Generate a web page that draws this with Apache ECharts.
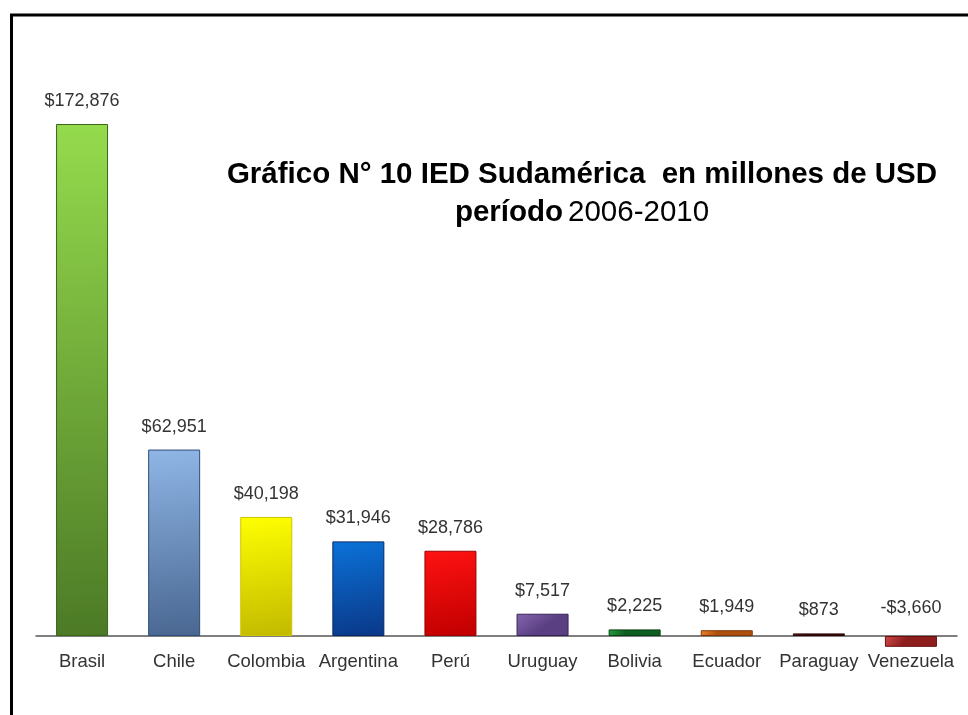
<!DOCTYPE html>
<html>
<head>
<meta charset="utf-8">
<script src="https://cdn.jsdelivr.net/npm/echarts@6/dist/echarts.min.js"></script>
<style>
html,body{margin:0;padding:0;background:#fff;}
#chart{width:968px;height:715px;}
</style>
</head>
<body>
<div id="chart"></div>
<script>
var categories = ['Brasil', 'Chile', 'Colombia', 'Argentina', 'Perú', 'Uruguay', 'Bolivia', 'Ecuador', 'Paraguay', 'Venezuela'];
var values = [172876, 62951, 40198, 31946, 28786, 7517, 2225, 1949, 873, -3660];
var titleLine1 = 'Gráfico N° 10 IED Sudamérica  en millones de USD';
var titleLine2Bold = 'período';
var titleLine2Normal = '2006-2010';

var palette = [
  ['#95db4d', '#4c7a26', '#3b6519'],
  ['#8fb6e6', '#4a6892', '#2e4d7a'],
  ['#ffff00', '#c4bc00', '#cfc600'],
  ['#0b72d8', '#0a3b8c', '#06286a'],
  ['#ff1212', '#c40000', '#9c0000'],
  ['#8565ad', '#5a3f82', '#35245a'],
  ['#22a040', '#0e5e1f', '#0a4016'],
  ['#f08224', '#b04e0e', '#80380a'],
  ['#8c1c1c', '#3c0808', '#2a0505'],
  ['#d24a4a', '#8e1e1e', '#6a1010']
];

function fmt(v) {
  var s = Math.abs(v).toString().replace(/\B(?=(\d{3})+(?!\d))/g, ',');
  return (v < 0 ? '-$' : '$') + s;
}

var seriesData = values.map(function (v, i) {
  var c = palette[i];
  var item = {
    value: v,
    itemStyle: {
      color: new echarts.graphic.LinearGradient(0, 0, 0.3, 1, [
        { offset: 0, color: c[0] },
        { offset: 1, color: c[1] }
      ]),
      borderColor: c[2],
      borderWidth: 1
    }
  };
  if (v < 0) {
    item.label = { distance: 19 };
  }
  return item;
});

var chart = echarts.init(document.getElementById('chart'), null, { renderer: 'canvas' });
chart.setOption({
  backgroundColor: '#fff',
  animation: false,
  title: {
    text: '{b|' + titleLine1 + '}\n{b|' + titleLine2Bold + '} {n|' + titleLine2Normal + '}',
    left: 577,
    textAlign: 'center',
    top: 151,
    textStyle: {
      rich: {
        b: { fontFamily: 'Liberation Sans, Arial, sans-serif', fontWeight: 'bold', fontSize: 29.5, color: '#000', lineHeight: 38 },
        n: { fontFamily: 'Liberation Sans, Arial, sans-serif', fontWeight: 'normal', fontSize: 29.5, color: '#000', lineHeight: 38 }
      }
    }
  },
  graphic: [{
    type: 'rect',
    shape: { x: 11.5, y: 15, width: 1100, height: 900 },
    style: { fill: 'none', stroke: '#000', lineWidth: 3 },
    silent: true
  }],
  grid: { left: 36, right: 11, top: 117.7, bottom: 64.2, containLabel: false },
  xAxis: {
    type: 'category',
    data: categories,
    axisLine: { show: true, onZero: true, lineStyle: { color: '#555', width: 1.5 } },
    axisTick: { show: false },
    axisLabel: { interval: 0, margin: 1.5, color: '#333', fontSize: 18.5, fontFamily: 'Liberation Sans, Arial, sans-serif' },
    splitLine: { show: false }
  },
  yAxis: {
    type: 'value',
    min: -5000,
    max: 175000,
    show: false,
    splitLine: { show: false }
  },
  series: [{
    type: 'bar',
    data: seriesData,
    barWidth: 52,
    label: {
      show: true,
      position: 'top',
      distance: 14,
      color: '#333',
      fontSize: 18,
      fontFamily: 'Liberation Sans, Arial, sans-serif',
      formatter: function (p) { return fmt(p.value); }
    }
  }]
});
</script>
</body>
</html>
